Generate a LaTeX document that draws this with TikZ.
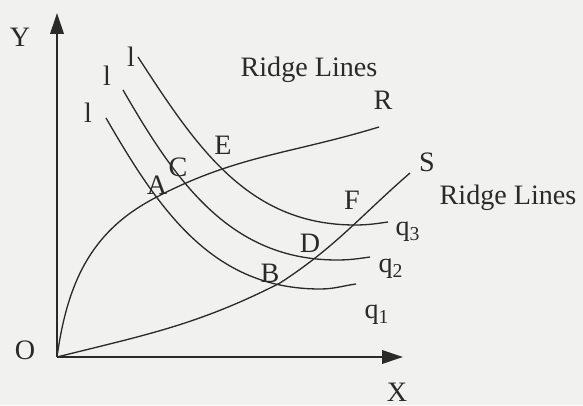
\documentclass[tikz,border=0pt]{standalone}
\usepackage{fontspec}
\setmainfont{Liberation Serif}
\usetikzlibrary{arrows.meta}
\definecolor{paper}{HTML}{F1F1EF}
\definecolor{ink}{HTML}{2A2A2A}

\begin{document}
\begin{tikzpicture}[
    x=0.2mm, y=0.2mm,
    lbl/.style={inner sep=0pt, text=ink, font=\fontsize{16}{18}\selectfont},
    curve/.style={draw=ink, line width=0.75pt},
    axis/.style={draw=ink, line width=1.1pt, -{Triangle[length=4.2mm, width=2.7mm]}}
]

  % --- PAGE ---
  \fill[paper] (0,0) rectangle (583,405);
  \useasboundingbox (0,0) rectangle (583,405);

  % --- AXES ---
  \coordinate (O) at (57,48);
  \coordinate (ytop) at (57,392);
  \coordinate (xend) at (403,48);
  \draw[axis] (O) -- (ytop);
  \draw[axis] (O) -- (xend);
  \node[lbl] (ylab) at (20,368) {Y};
  \node[lbl] (olab) at (25,55) {O};
  \node[lbl] (xlab) at (397,13) {X};

  % --- POINTS ON THE RIDGE LINES ---
  \coordinate (A) at (153,206);
  \coordinate (Rend) at (379,278);
  \coordinate (B) at (280,122);
  \coordinate (Send) at (410,232);

  % --- ISOQUANT END POINTS ---
  \coordinate (q1s) at (106,287);
  \coordinate (q1m) at (320,116);
  \coordinate (q1e) at (356,121);
  \coordinate (q2s) at (123,315);
  \coordinate (q2m) at (337,145);
  \coordinate (q2e) at (370,148);
  \coordinate (q3s) at (138,348);
  \coordinate (q3m) at (355,180);
  \coordinate (q3e) at (388,183);

  % Ridge lines
  \draw[curve] (O) to[out=82, in=208] (A) to[out=28, in=197] (Rend);
  \draw[curve] (O) to[out=14, in=207] (B) to[out=33, in=221] (Send);

  % Isoquants
  \draw[curve] (q1s) to[out=-60, in=180] (q1m) to[out=0, in=188] (q1e);
  \draw[curve] (q2s) to[out=-60, in=180] (q2m) to[out=0, in=188] (q2e);
  \draw[curve] (q3s) to[out=-57, in=180] (q3m) to[out=0, in=188] (q3e);

  % --- LABELS ---
  \node[lbl] (l1) at (88,292) {l};
  \node[lbl] (l2) at (107,329) {l};
  \node[lbl] (l3) at (131,348) {l};
  \node[lbl] (alab) at (157,220) {A};
  \node[lbl] (clab) at (178,238) {C};
  \node[lbl] (elab) at (223,260) {E};
  \node[lbl] (flab) at (352,205) {F};
  \node[lbl] (dlab) at (310,162) {D};
  \node[lbl] (blab) at (270,132) {B};
  \node[lbl] (rlab) at (383,305) {R};
  \node[lbl] (slab) at (427,243) {S};
  \node[lbl] (q1lab) at (377,90) {q\textsubscript{1}};
  \node[lbl] (q2lab) at (391,136) {q\textsubscript{2}};
  \node[lbl] (q3lab) at (408,173) {q\textsubscript{3}};
  \node[lbl] (ridgetop) at (309,335) {Ridge Lines};
  \node[lbl] (ridgeright) at (508,207) {Ridge Lines};

\end{tikzpicture}
\end{document}
